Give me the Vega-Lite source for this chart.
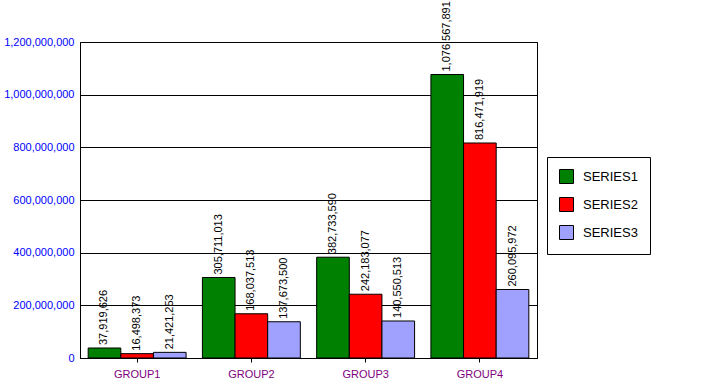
{
  "$schema": "https://vega.github.io/schema/vega-lite/v6.json",
  "width": 457,
  "height": 316,
  "autosize": {"type": "none"},
  "padding": {"left": 80, "top": 42, "right": 189, "bottom": 23},
  "background": "white",
  "config": {
    "font": "Liberation Sans",
    "view": {"stroke": "black", "strokeWidth": 1},
    "axis": {"titleFontSize": 11}
  },
  "data": {
    "values": [
      {"group": "GROUP1", "series": "SERIES1", "value": 37919626},
      {"group": "GROUP1", "series": "SERIES2", "value": 16498373},
      {"group": "GROUP1", "series": "SERIES3", "value": 21421253},
      {"group": "GROUP2", "series": "SERIES1", "value": 305711013},
      {"group": "GROUP2", "series": "SERIES2", "value": 168037513},
      {"group": "GROUP2", "series": "SERIES3", "value": 137673500},
      {"group": "GROUP3", "series": "SERIES1", "value": 382733590},
      {"group": "GROUP3", "series": "SERIES2", "value": 242183077},
      {"group": "GROUP3", "series": "SERIES3", "value": 140550513},
      {"group": "GROUP4", "series": "SERIES1", "value": 1076567891},
      {"group": "GROUP4", "series": "SERIES2", "value": 816471919},
      {"group": "GROUP4", "series": "SERIES3", "value": 260095972}
    ]
  },
  "encoding": {
    "x": {
      "field": "group", "type": "nominal",
      "scale": {"paddingInner": 0.143, "paddingOuter": 0.0715},
      "axis": {
        "title": null, "labelAngle": 0, "labelColor": "#800080", "labelFontSize": 11,
        "ticks": true, "tickSize": 4, "tickColor": "black", "domainColor": "black",
        "labelPadding": 6, "grid": false
      }
    },
    "xOffset": {"field": "series", "type": "nominal", "scale": {"paddingInner": 0, "paddingOuter": 0}},
    "y": {
      "field": "value", "type": "quantitative",
      "scale": {"domain": [0, 1200000000], "nice": false},
      "axis": {
        "title": null, "values": [0, 200000000, 400000000, 600000000, 800000000, 1000000000, 1200000000],
        "labelExpr": "format(datum.value, ',')", "labelColor": "#0000FF", "labelFontSize": 11, "ticks": false,
        "labelPadding": 6, "grid": true, "gridColor": "black", "gridOpacity": 1,
        "domainColor": "black"
      }
    }
  },
  "layer": [
    {
      "mark": {"type": "bar", "stroke": "black", "strokeWidth": 1},
      "encoding": {
        "color": {
          "field": "series", "type": "nominal",
          "scale": {"domain": ["SERIES1", "SERIES2", "SERIES3"], "range": ["#008000", "#FF0000", "#A0A0FF"]},
          "legend": {
            "title": "\u00a0\u00a0\u00a0\u00a0", "titleOrient": "right", "titlePadding": 0, "titleFontSize": 13,
            "orient": "none", "legendX": 467, "legendY": 115,
            "strokeColor": "black", "fillColor": "white", "padding": 12,
            "symbolType": "square", "symbolSize": 196, "symbolStrokeColor": "black", "symbolStrokeWidth": 1,
            "symbolOpacity": 1, "labelLimit": 400,
            "labelFontSize": 13, "labelColor": "black", "labelOffset": 9, "rowPadding": 9,
            "labelExpr": "datum.label + '\u00a0\u00a0\u00a0\u00a0\u00a0\u00a0\u00a0\u00a0\u00a0\u00a0\u00a0\u00a0\u00a0\u00a0\u00a0\u00a0\u00a0\u00a0\u00a0\u00a0'"
          }
        }
      }
    },
    {
      "mark": {"type": "text", "angle": 270, "align": "left", "baseline": "middle", "dx": 3, "fontSize": 11, "color": "black"},
      "encoding": {
        "text": {"field": "value", "type": "quantitative", "format": ","}
      }
    }
  ]
}
